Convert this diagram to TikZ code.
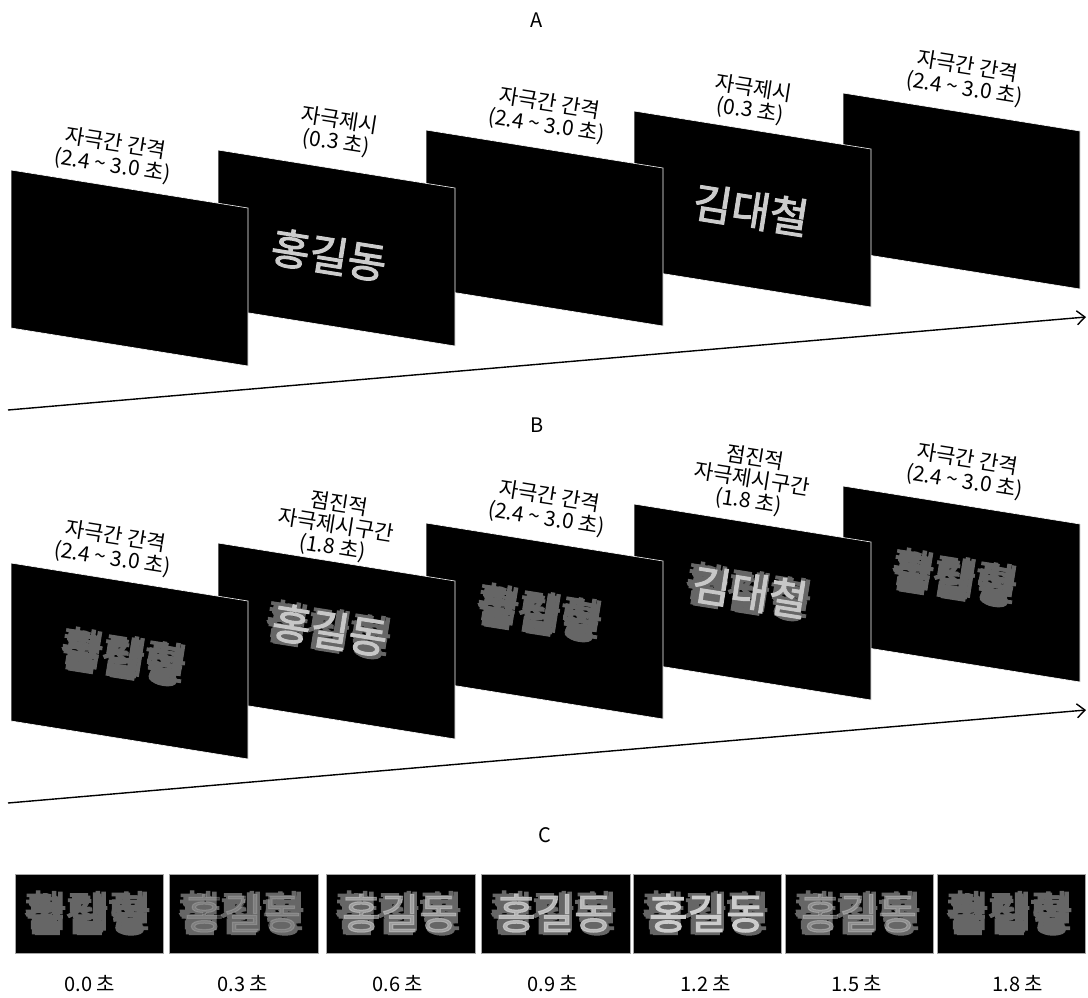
\documentclass[tikz,border=0pt]{standalone}
\usepackage{fontspec}
\setmainfont{Noto Sans CJK KR}
\newfontfamily\stimfont[FakeBold=2.4]{Noto Sans CJK KR}
\usetikzlibrary{arrows.meta, positioning}

% one scrambled syllable: several glyphs laid over each other
\newcommand{\mixsyl}[5]{\makebox[1em][l]{\rlap{#1}\rlap{\kern.07em\raisebox{.05em}{#2}}\rlap{\kern-.06em\raisebox{-.05em}{#3}}\rlap{\kern.04em\raisebox{-.07em}{#4}}\rlap{\kern-.04em\raisebox{.07em}{#5}}}}
\newcommand{\scramble}{\mixsyl{홍}{김}{철}{탐}{활}\mixsyl{길}{대}{잡}{탐}{림}\mixsyl{동}{철}{형}{황}{릴}}

\begin{document}
\begin{tikzpicture}[x=1pt, y=-1pt,
    screen/.style={fill=black, draw=white, line width=0.6pt},
    thumb/.style={fill=black, draw=black!35, line width=0.8pt},
    lbl/.style={rotate=-9, align=center, inner sep=0pt, font=\fontsize{21}{22}\selectfont},
    title/.style={inner sep=0pt, font=\fontsize{20}{22}\selectfont},
    word/.style={inner sep=0pt, text=black!20, font=\stimfont\fontsize{42}{42}\selectfont},
    blob/.style={inner sep=0pt, text=black!60, font=\stimfont\fontsize{42}{42}\selectfont},
    timeaxis/.style={-{Straight Barb[length=8pt, width=14pt]}, line width=1.4pt}]
    \useasboundingbox (0,0) rectangle (1088,997);

    % Panel A
    \node (ttlA) [title] at (537,20) {A};
    \coordinate (tA0) at (8,410);
    \coordinate (tA1) at (1086,317);
    \draw [timeaxis] (tA0) -- (tA1);

    \fill [screen] (843,93) -- ++(237,38) -- ++(0,158) -- ++(-237,-38) -- cycle;
    \fill [screen] (634,111) -- ++(237,38) -- ++(0,158) -- ++(-237,-38) -- cycle;
    \node (wA4) [word, rotate=-9] at (751,210) {김대철};
    \fill [screen] (426,130) -- ++(237,38) -- ++(0,158) -- ++(-237,-38) -- cycle;
    \fill [screen] (218,150) -- ++(237,38) -- ++(0,158) -- ++(-237,-38) -- cycle;
    \node (wA2) [word, rotate=-9] at (329,255) {홍길동};
    \fill [screen] (11,170) -- ++(237,38) -- ++(0,158) -- ++(-237,-38) -- cycle;

    \node (lA1) [lbl] at (114,155) {자극간 간격\\\textit{(2.4 \char`~{} 3.0 초)}};
    \node (lA2) [lbl] at (338,132) {자극제시\\\textit{(0.3 초)}};
    \node (lA3) [lbl] at (548,115) {자극간 간격\\\textit{(2.4 \char`~{} 3.0 초)}};
    \node (lA4) [lbl] at (752,100) {자극제시\\\textit{(0.3 초)}};
    \node (lA5) [lbl] at (966,78) {자극간 간격\\\textit{(2.4 \char`~{} 3.0 초)}};

    % Panel B
    \node (ttlB) [title] at (537,425) {B};
    \coordinate (tB0) at (8,803);
    \coordinate (tB1) at (1086,710);
    \draw [timeaxis] (tB0) -- (tB1);

    \fill [screen] (843,486) -- ++(237,38) -- ++(0,158) -- ++(-237,-38) -- cycle;
    \node (sB5) [blob, rotate=-9] at (956,578) {\scramble};
    \fill [screen] (634,504) -- ++(237,38) -- ++(0,158) -- ++(-237,-38) -- cycle;
    \node (sB4) [blob, rotate=-9] at (750,592) {\scramble};
    \node (wB4) [word, rotate=-9, text=black!22] at (750,592) {김대철};
    \fill [screen] (426,523) -- ++(237,38) -- ++(0,158) -- ++(-237,-38) -- cycle;
    \node (sB3) [blob, rotate=-9] at (541,613) {\scramble};
    \fill [screen] (218,543) -- ++(237,38) -- ++(0,158) -- ++(-237,-38) -- cycle;
    \node (sB2) [blob, rotate=-9] at (330,630) {\scramble};
    \node (wB2) [word, rotate=-9, text=black!22] at (330,630) {홍길동};
    \fill [screen] (11,563) -- ++(237,38) -- ++(0,158) -- ++(-237,-38) -- cycle;
    \node (sB1) [blob, rotate=-9] at (125,657) {\scramble};

    \node (lB1) [lbl] at (114,548) {자극간 간격\\\textit{(2.4 \char`~{} 3.0 초)}};
    \node (lB2) [lbl] at (336,526) {점진적\\자극제시구간\\\textit{(1.8 초)}};
    \node (lB3) [lbl] at (548,508) {자극간 간격\\\textit{(2.4 \char`~{} 3.0 초)}};
    \node (lB4) [lbl] at (752,480) {점진적\\자극제시구간\\\textit{(1.8 초)}};
    \node (lB5) [lbl] at (966,471) {자극간 간격\\\textit{(2.4 \char`~{} 3.0 초)}};

    % Panel C
    \node (ttlC) [title] at (545,835) {C};

    \draw [thumb] (15,874) rectangle ++(148,79);
    \node (sC1) [blob] at (89,913) {\scramble};
    \node (tC1) [title] at (90,984) {0.0 초};

    \draw [thumb] (169,874) rectangle ++(149,79);
    \node (sC2) [blob] at (243,913) {\scramble};
    \node (wC2) [word, text opacity=0.25] at (243,913) {홍길동};
    \node (tC2) [title] at (243,984) {0.3 초};

    \draw [thumb] (326,874) rectangle ++(149,79);
    \node (sC3) [blob] at (400,913) {\scramble};
    \node (wC3) [word, text opacity=0.55] at (400,913) {홍길동};
    \node (tC3) [title] at (398,984) {0.6 초};

    \draw [thumb] (481,874) rectangle ++(149,79);
    \node (sC4) [blob] at (555,913) {\scramble};
    \node (wC4) [word, text opacity=0.8] at (555,913) {홍길동};
    \node (tC4) [title] at (553,984) {0.9 초};

    \draw [thumb] (633,874) rectangle ++(148,79);
    \node (sC5) [blob] at (707,913) {\scramble};
    \node (wC5) [word] at (707,913) {홍길동};
    \node (tC5) [title] at (706,984) {1.2 초};

    \draw [thumb] (785,874) rectangle ++(148,79);
    \node (sC6) [blob] at (859,913) {\scramble};
    \node (wC6) [word, text opacity=0.4] at (859,913) {홍길동};
    \node (tC6) [title] at (857,984) {1.5 초};

    \draw [thumb] (937,874) rectangle ++(148,79);
    \node (sC7) [blob] at (1011,913) {\scramble};
    \node (tC7) [title] at (1018,984) {1.8 초};
\end{tikzpicture}
\end{document}
